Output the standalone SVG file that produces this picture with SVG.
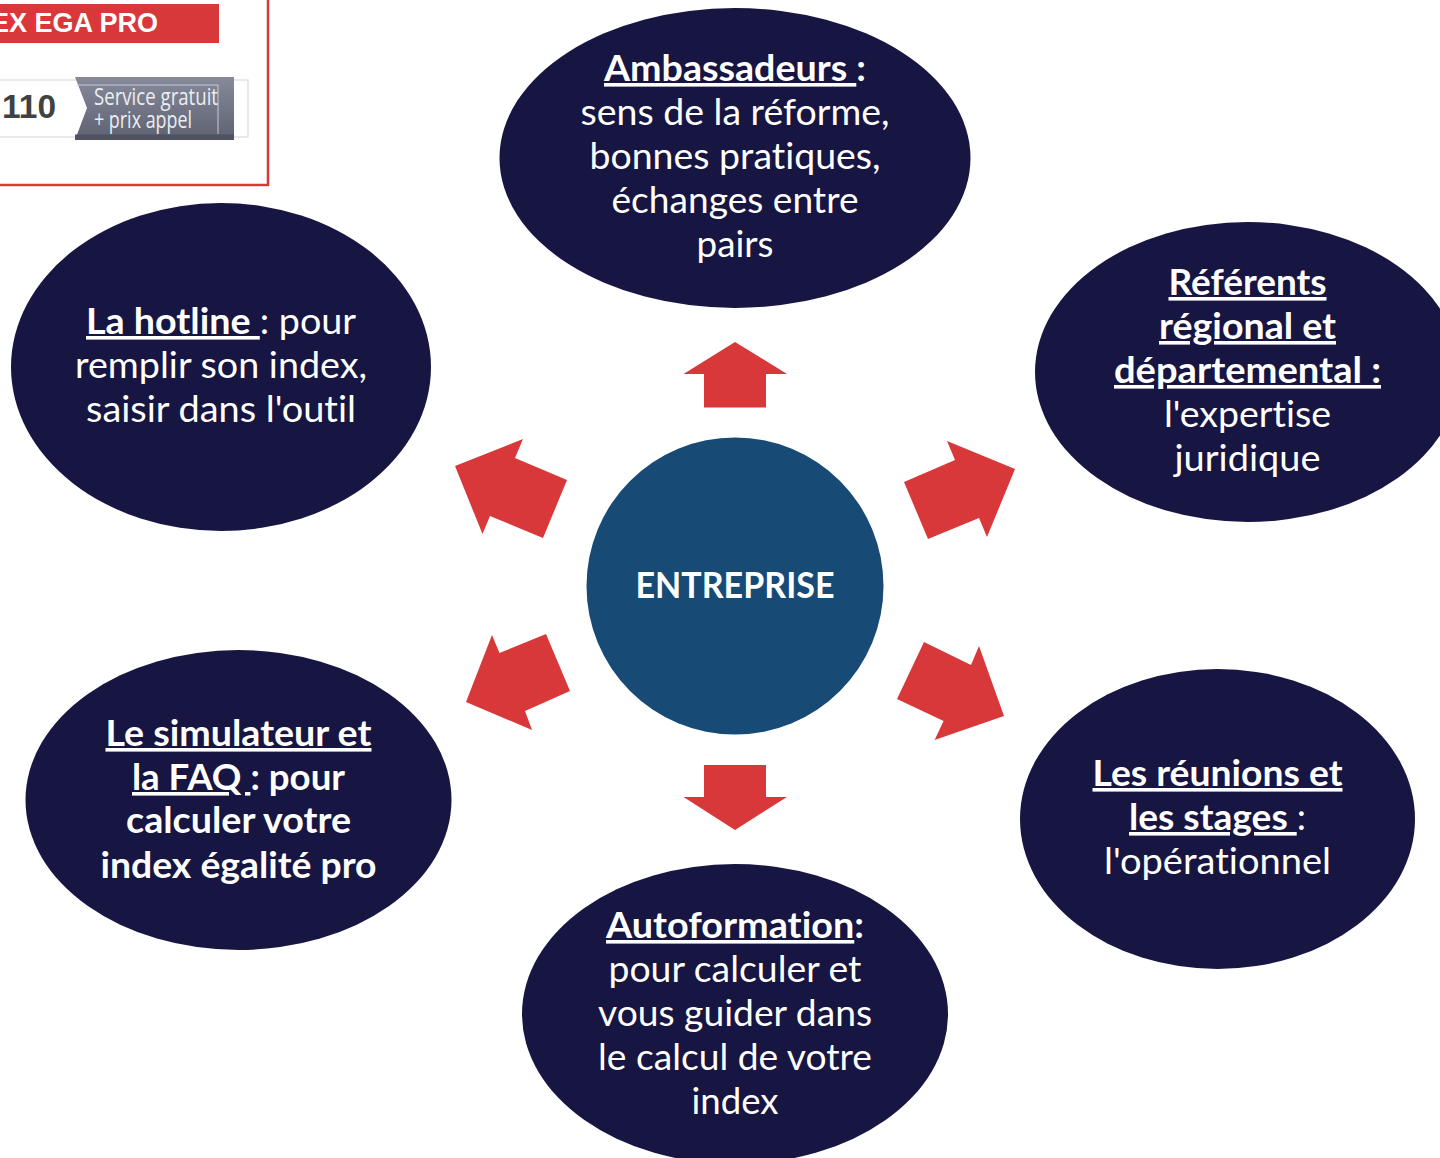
<svg xmlns="http://www.w3.org/2000/svg" width="1440" height="1158" viewBox="0 0 1440 1158">
<style>
.b{fill:#171542}
.a{fill:#d9383a}
.t{font-family:"Lato","Carlito","Liberation Sans",sans-serif;font-size:36px;fill:#fff;text-anchor:middle;font-variant-ligatures:none}
.h{font-weight:700}
.u{text-decoration:underline}
.w{font-family:"Liberation Sans",Arial,sans-serif;font-weight:700}
.s{font-family:"Open Sans",sans-serif;font-size:23px;fill:#eceef2}
</style>
<defs>
<linearGradient id="g" x1="0" y1="0" x2="0" y2="1"><stop offset="0" stop-color="#868a9b"/><stop offset="1" stop-color="#5d6170"/></linearGradient>
</defs>
<rect width="1440" height="1158" fill="#fff"/>
<g id="legend">
<path d="M268 0V185H0" fill="none" stroke="#d9383a" stroke-width="2.5"/>
<rect class="a" x="0" y="4" width="219" height="39"/>
<text class="w" x="158" y="32" font-size="27" fill="#fff" text-anchor="end">EX EGA PRO</text>
<path d="M0 80H248V137H0" fill="none" stroke="#e2e2e2" stroke-width="1.5"/>
<text class="w" x="2" y="118" font-size="33" fill="#414141" textLength="54" lengthAdjust="spacingAndGlyphs">110</text>
<path d="M75 77H234V140H75L87 108Z" fill="url(#g)"/>
<path d="M75 134.500H234V140H75Z" fill="#4f5361"/>
<path d="M77 85H218V134" fill="none" stroke="#c9ccd6" stroke-width="1"/>
<text class="s" x="94" y="105" textLength="124" lengthAdjust="spacingAndGlyphs">Service gratuit</text>
<text class="s" x="94" y="128" textLength="98" lengthAdjust="spacingAndGlyphs">+ prix appel</text>
</g>
<g id="connectors">
<polygon class="a" points="735,342 787,374 766,374 766,407.500 704,407.500 704,374 683.500,374"/>
<polygon class="a" points="455,466 523,439 515,458 567,480 543,538 490,516 482.500,534"/>
<polygon class="a" points="1015,469 947,441 955,460 904,482 928,539 979,518 987,537"/>
<polygon class="a" points="466,702 492,635 499.500,653 546,634 570,691 525,711 532,730"/>
<polygon class="a" points="1004,716 979,646 971,665 924,642 897,699 943.600,721 934.600,740"/>
<polygon class="a" points="735,830 787,797 766,797 766,765 704,765 704,797 683.500,797"/>
</g>
<g id="center"><circle cx="735" cy="586" r="148.500" fill="#174a75"/>
<text class="t h" x="735" y="598" textLength="199" lengthAdjust="spacingAndGlyphs">ENTREPRISE</text></g>
<g id="ambassadeurs"><ellipse class="b" cx="735" cy="158" rx="235.500" ry="150"/>
<text class="t" x="735" y="81" textLength="262" lengthAdjust="spacingAndGlyphs"><tspan class="h u">Ambassadeurs </tspan><tspan class="h">:</tspan></text>
<text class="t" x="735" y="125" textLength="309" lengthAdjust="spacingAndGlyphs">sens de la réforme,</text>
<text class="t" x="735" y="169" textLength="291" lengthAdjust="spacingAndGlyphs">bonnes pratiques,</text>
<text class="t" x="735" y="213" textLength="247" lengthAdjust="spacingAndGlyphs">échanges entre</text>
<text class="t" x="735" y="257" textLength="77" lengthAdjust="spacingAndGlyphs">pairs</text></g>
<g id="referents"><ellipse class="b" cx="1247.500" cy="372" rx="212.500" ry="150"/>
<text class="t h u" x="1247.500" y="295" textLength="158" lengthAdjust="spacingAndGlyphs">Référents</text>
<text class="t h u" x="1247.500" y="339" textLength="177" lengthAdjust="spacingAndGlyphs">régional et</text>
<text class="t h u" x="1247.500" y="383" textLength="267" lengthAdjust="spacingAndGlyphs">départemental :</text>
<text class="t" x="1247.500" y="427" textLength="167" lengthAdjust="spacingAndGlyphs">l'expertise</text>
<text class="t" x="1247.500" y="471" textLength="146" lengthAdjust="spacingAndGlyphs">juridique</text></g>
<g id="hotline"><ellipse class="b" cx="221" cy="367" rx="210" ry="164"/>
<text class="t" x="221" y="334" textLength="270" lengthAdjust="spacingAndGlyphs"><tspan class="h u">La hotline </tspan>: pour</text>
<text class="t" x="221" y="378" textLength="292" lengthAdjust="spacingAndGlyphs">remplir son index,</text>
<text class="t" x="221" y="422" textLength="270" lengthAdjust="spacingAndGlyphs">saisir dans l'outil</text></g>
<g id="simulateur"><ellipse class="b" cx="238.500" cy="800" rx="213" ry="150"/>
<text class="t h u" x="238.500" y="746" textLength="266" lengthAdjust="spacingAndGlyphs">Le simulateur et</text>
<text class="t h" x="238.500" y="790" textLength="213" lengthAdjust="spacingAndGlyphs"><tspan class="u">la FAQ </tspan>: pour</text>
<text class="t h" x="238.500" y="833" textLength="225" lengthAdjust="spacingAndGlyphs">calculer votre</text>
<text class="t h" x="238.500" y="878" textLength="276" lengthAdjust="spacingAndGlyphs">index égalité pro</text></g>
<g id="reunions"><ellipse class="b" cx="1217.500" cy="819" rx="197.500" ry="150"/>
<text class="t h u" x="1217.500" y="786" textLength="250" lengthAdjust="spacingAndGlyphs">Les réunions et</text>
<text class="t" x="1217.500" y="830" textLength="177" lengthAdjust="spacingAndGlyphs"><tspan class="h u">les stages </tspan>:</text>
<text class="t" x="1217.500" y="874" textLength="227" lengthAdjust="spacingAndGlyphs">l'opérationnel</text></g>
<g id="autoformation"><ellipse class="b" cx="735" cy="1014" rx="213" ry="150"/>
<text class="t h" x="735" y="938" textLength="258" lengthAdjust="spacingAndGlyphs"><tspan class="u">Autoformation</tspan>:</text>
<text class="t" x="735" y="982" textLength="253" lengthAdjust="spacingAndGlyphs">pour calculer et</text>
<text class="t" x="735" y="1026" textLength="274" lengthAdjust="spacingAndGlyphs">vous guider dans</text>
<text class="t" x="735" y="1070" textLength="274" lengthAdjust="spacingAndGlyphs">le calcul de votre</text>
<text class="t" x="735" y="1114" textLength="87" lengthAdjust="spacingAndGlyphs">index</text></g>
</svg>
